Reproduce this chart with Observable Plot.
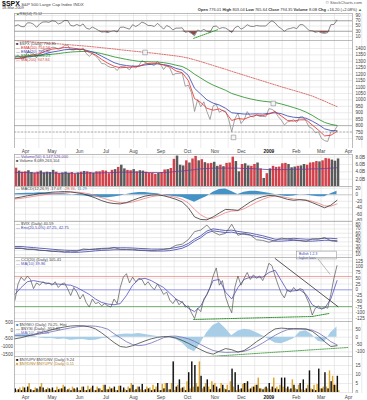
<!DOCTYPE html>
<html><head><meta charset="utf-8">
<script src="https://cdn.jsdelivr.net/npm/d3@7"></script>
<script src="https://cdn.jsdelivr.net/npm/@observablehq/plot@0.6"></script>
<style>
body{margin:0;background:#fff;}
#c{position:relative;width:367px;height:400px;overflow:hidden;font-family:"Liberation Sans",Arial,sans-serif;background:#fff;}
#c svg{position:absolute;left:0;overflow:visible;}
.t{position:absolute;white-space:nowrap;line-height:1;}
</style></head><body><div id="c"></div>
<script>
// ---------- DATA (semi-weekly grid from 2008-03-20, step 3.5 days, 105 points) ----------
const price = [1330,1350,1325,1322,1370,1372,1360,1328,1365,1388,
 1395,1396,1409,1408,1394,1403,1424,1426,1390,1388,
 1398,1385,1404,1361,1339,1360,1342,1318,1283,1280,
 1262,1252,1253,1228,1260,1261,1252,1234,1267,1249,
 1266,1305,1293,1278,1277,1267,1300,1277,1236,1268,
 1249,1193,1206,1207,1209,1106,1114,1056,910,1003,
 946,985,908,848,954,966,904,919,911,850,
 752,851,896,816,845,909,873,868,886,871,
 872,869,931,927,909,871,843,805,828,836,
 845,825,868,869,835,789,778,743,752,700,
 683,677,751,753,794];
const rsi = [50,55,48,47,62,62,57,45,58,65,
 66,64,70,68,58,62,71,71,52,50,
 56,50,58,42,38,46,40,33,27,28,
 25,30,32,27,45,46,42,38,55,48,
 55,65,60,52,52,48,60,50,38,52,
 46,35,42,42,43,26,29,22,13,35,
 30,37,30,26,48,50,40,44,42,35,
 25,43,50,38,44,55,49,48,52,50,
 50,50,62,70,62,48,40,30,38,41,
 44,40,55,55,44,33,32,26,29,24,
 22,25,55,56,72];
const cci = [-45,25,55,40,60,45,5,30,20,35,
 25,30,20,35,10,25,30,5,-25,10,
 -10,-40,-20,-55,-75,-40,-60,-55,-70,-60,
 -70,-75,-40,-60,10,55,70,30,55,35,
 50,45,20,35,15,0,25,5,-20,-10,
 -45,-60,-40,-65,-50,-75,-70,-100,-125,-80,
 -95,-40,-20,10,60,95,20,40,-30,-70,
 -100,10,60,20,50,75,45,65,50,60,
 40,70,115,105,60,20,-15,-35,0,-10,
 10,-5,5,0,-30,-60,-110,-80,-70,-85,
 -75,-80,-20,50,105];
const volume = [5.0,4.2,3.9,4.0,4.3,3.8,3.6,3.9,4.2,3.7,
 3.9,3.8,4.4,3.9,3.5,3.7,3.9,3.6,3.8,3.4,
 3.7,3.9,4.1,4.0,3.8,3.6,4.0,4.0,4.3,4.2,
 3.5,4.4,4.6,5.2,5.8,4.8,4.4,4.3,4.6,4.0,
 4.3,4.2,3.9,3.6,3.6,3.3,3.6,3.8,4.5,4.6,
 4.9,7.4,8.3,5.8,5.6,7.0,6.4,7.5,8.2,7.0,
 7.3,6.5,6.2,6.3,6.6,5.5,5.8,5.4,6.3,6.4,
 8.0,6.8,4.0,6.0,6.2,5.6,5.5,6.0,6.4,4.8,
 2.2,3.5,4.8,5.5,5.2,5.3,6.2,6.3,6.0,5.1,
 5.3,5.5,5.6,6.0,5.8,6.4,6.5,6.8,6.7,7.0,
 7.6,7.5,7.2,6.9,7.5];
const volumeDir = "rkrrkkrrkk"+"kkkrrkkkrr"+"krkrrkrrrr"+"rrkrkkrrkr"+"kkrrrrkrrk"+"rrkkkrkrrk"+"rkrrkkrkrr"+"rkkrkkrrkr"+"krkrrrrrkk"+"krkkrrrrkr"+"rrkkk";
const upDownRatio = [2,1.5,1,2.5,3,1.5,1,2,3,2.5,
 1.5,2,2.5,1,1.5,2,3,1.5,1,2,
 2.5,1,3,1,1.5,3.5,1,2,1,4,
 1.5,2,3,1,3.5,2.5,1,2,4,1.5,
 3,4.5,1.5,2,1,1.5,5,1,2,5,
 1.5,17,3,7,2.5,1,11,17,15,3,
 9,3,7,1.5,4,3,2,4,1.5,1,
 13,11,4,2,5,6,2,3,4,2,
 1.5,3,5,3,2,1.5,8,8,3,2,
 4,1.5,5,7,2,12,1.5,1,13,2,
 11,2,6,4,9];
const downUpRatio = [1,2.5,3,1,5,1,2.5,1.5,5,1,
 2.5,1.5,1,3,2,4,1,2,3,1.5,
 1,3,1,3.5,2.5,1,3,2,4,1.5,
 3,2,1,3.5,1,1.5,3,5,1,3,
 1.5,1,3,2.5,4,3,1,4.5,5,1.5,
 5,1,4,2,3,6,2,3,5,17,
 2,5,3,6,5,1.5,5,2,4,6,
 3,1,1.5,4.5,5,1.5,3,4,8,2,
 2.5,2,1.5,8,3,4,3,2,1.5,7,
 2,4,1.5,1,4,2,4,4.5,2,3,
 3,12,9,4,1];

// ---------- DATA (weekly grid from 2008-03-20, 53 points) ----------
const ema10 = [1320,1325,1340,1352,1358,1380,1395,1400,1408,1405,1398,1392,1370,1350,1315,1285,1262,1250,1253,1255,1262,1280,1285,1285,1270,1258,1225,1212,1150,1010,980,935,920,930,905,840,855,850,870,880,878,890,910,875,840,835,845,845,805,765,720,725,755];
const ema20 = [1325,1325,1333,1340,1347,1360,1372,1380,1390,1393,1393,1392,1380,1365,1340,1315,1290,1275,1267,1262,1263,1272,1277,1280,1275,1265,1245,1232,1190,1090,1045,1000,975,960,935,900,895,890,890,892,890,895,900,893,875,865,862,858,835,808,775,762,760];
const ema50 = [1340,1338,1340,1342,1345,1350,1355,1360,1367,1372,1375,1377,1375,1370,1360,1348,1335,1325,1315,1307,1300,1298,1296,1295,1290,1282,1270,1260,1235,1200,1170,1140,1115,1095,1075,1050,1035,1020,1008,998,990,985,980,968,955,940,925,905,880,850,825,810,801];
const ma200 = [1462,1458,1454,1450,1447,1443,1440,1436,1432,1428,1424,1420,1416,1411,1406,1401,1396,1390,1385,1380,1375,1370,1365,1360,1354,1348,1342,1335,1325,1312,1298,1283,1268,1253,1238,1222,1207,1192,1177,1162,1147,1132,1117,1102,1088,1074,1060,1045,1030,1010,990,968,948];
const volMA = [3.8,3.8,3.8,3.7,3.7,3.7,3.7,3.6,3.6,3.6,3.6,3.6,3.7,3.7,3.7,3.8,3.8,3.9,3.9,3.9,3.9,3.8,3.8,3.8,3.8,3.9,4.1,4.2,4.4,4.6,4.8,4.9,5.0,5.0,5.0,5.0,5.0,4.9,4.9,4.8,4.7,4.6,4.6,4.6,4.6,4.7,4.7,4.7,4.8,4.8,4.9,5.0,5.1];
const macd = [-10,-7,-3,0,4,6,8,9,10,9,6,3,-3,-10,-18,-24,-27,-28,-24,-17,-10,-4,-1,0,-3,-8,-14,-22,-40,-68,-76,-77,-68,-56,-45,-46,-48,-35,-22,-12,-6,-2,-3,-8,-14,-17,-15,-17,-24,-32,-40,-32,-17];
const macdSignal = [-13,-11,-8,-5,-2,1,3,5,7,8,8,6,3,-3,-9,-15,-20,-24,-25,-22,-17,-11,-6,-3,-2,-4,-8,-14,-25,-45,-62,-72,-72,-64,-55,-50,-49,-43,-33,-23,-14,-7,-4,-5,-9,-13,-15,-16,-20,-26,-34,-35,-28];
const macdHist = [3,4,5,5,6,5,5,4,3,1,-2,-3,-6,-7,-9,-9,-7,-4,1,5,7,7,5,3,-1,-4,-6,-8,-15,-23,-14,-5,8,16,18,10,1,8,11,11,8,5,1,-3,-5,-4,0,-1,-4,-6,-6,3,11];
const vix = [25.8,25.7,22.5,23.5,20.3,20.0,18.2,19.0,16.5,18.5,17.8,23.6,22.5,22.2,23.4,23.8,27.0,22.8,22.6,22.9,21.0,21.0,19.8,20.7,22.6,24.4,32.0,34.7,45.3,63.9,67.6,79.1,62.9,56.1,59.8,80.9,55.3,60.0,56.0,44.9,43.4,39.2,42.8,49.0,46.4,44.8,43.4,41.2,47.1,46.3,50.2,42.4,40.6];
const vixMA = [27,27,25.5,24.5,23,22,20.5,19.5,18.5,18,18,19,20,21.5,22.5,23,24,24,24,23.5,22.5,22,21,21,21,22,24.5,27.5,34,44,52,63,68,66,64,65,62,60,58,55,52,48,44,44,45,46,45,44,44,45,46,46,45];
const cciMA = [-20,10,35,40,35,30,25,25,22,20,10,-5,-20,-40,-55,-62,-65,-60,-25,20,45,50,40,25,10,-15,-40,-55,-80,-95,-70,-20,40,45,-10,-40,10,45,55,55,55,75,85,40,-5,-5,0,-20,-65,-80,-80,-40,40];
const nysi = [-520,-450,-350,-250,-150,-50,50,150,220,280,300,290,230,100,-150,-450,-750,-1000,-1050,-950,-800,-650,-520,-430,-380,-390,-470,-620,-800,-1000,-1200,-1380,-1480,-1300,-1130,-1200,-1350,-1250,-1000,-700,-450,-150,100,150,120,110,100,90,-50,-350,-700,-1000,-950];
const nysiMA = [-300,-330,-320,-280,-220,-150,-70,10,90,160,230,270,285,270,200,80,-200,-450,-700,-880,-950,-900,-780,-620,-450,-360,-350,-420,-520,-680,-880,-1080,-1250,-1330,-1370,-1360,-1340,-1300,-1180,-1000,-780,-540,-300,-100,50,100,110,90,20,-150,-400,-700,-900];
const nymo = [15,22,20,12,-5,-10,-8,-15,-12,-20,-18,-15,-22,-20,-10,-5,8,18,22,20,25,18,12,5,0,-5,-15,-40,-80,-100,-40,30,80,100,60,10,40,55,50,30,10,-15,-40,-45,-30,-10,35,45,15,-30,-35,30,70];

// ---------- annotations (dates & values) ----------
const rsiTrendDates = ["2008-10-08","2008-11-05"], rsiTrendVals = [3, 37];
const cciTrendDates = ["2009-01-08","2009-03-20"], cciTrendVals = [136, -73];
const cciSupportDates = ["2008-10-08","2009-02-19","2009-03-10"], cciSupportVals = [-129, -116, -103];
const nysiSupportDates = ["2008-10-22","2009-04-01"], nysiSupportVals = [-1640, -1060];
const priceNoteDates = ["2008-08-14","2008-11-22","2009-01-06"], priceNoteVals = [1369, 708, 972];

// ---------- tick labels ----------
const monthLabels = ["Apr","May","Jun","Jul","Aug","Sep","Oct","Nov","Dec","2009","Feb","Mar","Apr"];
const rsiTicks = [90,70,50,30,10];
const priceTicks = [1400,1350,1300,1250,1200,1150,1100,1050,1000,950,900,850,800,750,700];
const volTicks = [8,6,4,2];
const macdTicks = [20,0,-20,-40,-60,-80];
const vixTicks = [80,70,60,50,40,30,20,10];
const cciTicks = [125,100,75,50,25,0,-25,-50,-75,-100,-125];
const nymoTicks = [50,0,-50,-100];
const nysiTicks = [500,0,-500,-1000,-1500];
const ratioTicks = [15,10,5,0];

// ---------- build ----------
const DAY = 864e5, T0 = Date.UTC(2008,2,20);
const semiDates = d3.range(price.length).map(i => new Date(T0 + i*3.5*DAY));
const weekDates = d3.range(ema10.length).map(i => new Date(T0 + i*7*DAY));
const semi = a => a.map((v,i) => ({date: semiDates[i], end: new Date(+semiDates[i] + 3.5*DAY), mid: new Date(+semiDates[i] + 1.75*DAY), v, i}));
const week = a => a.map((v,i) => ({date: weekDates[i], v}));
const pts = (ds, vs) => ds.map((d,i) => ({date: new Date(d), v: vs[i]}));
const xDomain = [new Date("2008-03-19T12:00Z"), new Date("2009-04-05T12:00Z")];
const monthDates = d3.utcMonth.range(new Date("2008-04-01"), new Date("2009-04-02"));
const grid = monthDates.flatMap(d => [d, d3.utcDay.offset(d, 15)]);
const FONT = "Liberation Sans, Arial, sans-serif";
const C = document.getElementById("c");

function panel(top, bottom, yDomain, ticks, marks, opt = {}) {
  const fmt = opt.fmt || (d => String(d));
  const svg = Plot.plot({
    width: 367, height: bottom - top, marginLeft: 14, marginRight: 15, marginTop: 0, marginBottom: 0,
    x: {type: "utc", domain: xDomain, axis: null},
    y: {domain: yDomain, axis: null},
    style: {background: opt.transparent ? "transparent" : "white", fontFamily: FONT, overflow: "visible"},
    marks: [
      opt.noGrid ? null : Plot.ruleX(grid, {stroke: "#dedede", strokeWidth: 0.6}),
      opt.noGrid ? null : Plot.ruleY(ticks, {stroke: "#dedede", strokeWidth: 0.6}),
      ...marks,
      opt.noGrid ? null : Plot.frame({stroke: "#a0a0a0", strokeWidth: 0.7}),
      Plot.text(ticks, {frameAnchor: opt.left ? "left" : "right", y: d => d, text: fmt,
        textAnchor: opt.left ? "end" : "start", dx: opt.left ? -1.5 : 3, fontSize: 4.6, fill: "#444"})
    ]
  });
  svg.style.top = top + "px";
  C.appendChild(svg);
}
function label(x, y, html, size, color, right) {
  const d = document.createElement("div");
  d.className = "t";
  d.style.top = y + "px";
  if (right) d.style.right = (367 - x) + "px"; else d.style.left = x + "px";
  d.style.fontSize = size + "px";
  d.style.color = color || "#333";
  d.innerHTML = html;
  C.appendChild(d);
}
function axisStrip(top, h) {
  const rows = monthDates.map((d,i) => ({d, l: monthLabels[i]}));
  const svg = Plot.plot({
    width: 367, height: h, marginLeft: 14, marginRight: 15, marginTop: 0, marginBottom: 0,
    x: {type: "utc", domain: xDomain, axis: null}, y: {domain: [0, 1], axis: null},
    style: {background: "white", fontFamily: FONT, overflow: "visible"},
    marks: [
      Plot.text(rows.filter(o => o.l !== "2009"), {x: "d", y: 0.5, text: "l", fontSize: 4.8, fill: "#444"}),
      Plot.text(rows.filter(o => o.l === "2009"), {x: "d", y: 0.5, text: "l", fontSize: 4.8, fill: "#111", fontWeight: "bold"})
    ]
  });
  svg.style.top = top + "px";
  C.appendChild(svg);
}

// RSI panel
panel(13, 40, [-5.2, 97.6], rsiTicks, [
  Plot.ruleY([70, 30], {stroke: "#8a8a8a", strokeWidth: 0.7}),
  Plot.areaY(semi(rsi), {x: "date", y1: 70, y2: d => Math.max(d.v, 70), fill: "#3c9a3c"}),
  Plot.areaY(semi(rsi), {x: "date", y1: 30, y2: d => Math.min(d.v, 30), fill: "#8c4a4a"}),
  Plot.lineY(semi(rsi), {x: "date", y: "v", stroke: "#555", strokeWidth: 0.7}),
  Plot.line(pts(rsiTrendDates, rsiTrendVals), {x: "date", y: "v", stroke: "#1a9a1a", strokeWidth: 0.9, strokeDasharray: "1.2,1", clip: true})
]);

// Price panel
panel(40, 148, [622, 1462], priceTicks, [
  Plot.ruleY([800], {stroke: "#999", strokeWidth: 0.7}),
  Plot.ruleY([750], {stroke: "#999", strokeWidth: 0.7, strokeDasharray: "2,1.5"}),
  Plot.lineY(week(ma200), {x: "date", y: "v", stroke: "#d0504a", strokeWidth: 0.8, strokeDasharray: "1.3,1.2", clip: true}),
  Plot.lineY(semi(price), {x: "date", y: "v", stroke: "#8c8c8c", strokeWidth: 0.8, clip: true}),
  Plot.lineY(week(ema50), {x: "date", y: "v", stroke: "#1e8c1e", strokeWidth: 0.8, clip: true}),
  Plot.lineY(week(ema20), {x: "date", y: "v", stroke: "#3040b0", strokeWidth: 0.8, clip: true}),
  Plot.lineY(week(ema10), {x: "date", y: "v", stroke: "#e8282a", strokeWidth: 0.8, clip: true}),
  Plot.dot(pts(priceNoteDates, priceNoteVals), {x: "date", y: "v", symbol: "square", r: 2.6, fill: "#f4f4fb", stroke: "#777", strokeWidth: 0.5})
]);
axisStrip(148, 6);

// Volume panel
panel(154, 186, [0, 8.72], volTicks, [
  Plot.rectY(semi(volume), {x1: "date", x2: "end", y: "v", insetLeft: 0.3, insetRight: 0.3,
    fill: d => volumeDir[d.i] === "r" ? "#d2414a" : "#5a5a5a", clip: true}),
  Plot.lineY(week(volMA), {x: "date", y: "v", stroke: "#6a3fa0", strokeWidth: 0.8})
], {fmt: d => d.toFixed(1) + "B"});

// MACD panel
panel(186, 221, [-82.2, 25.5], macdTicks, [
  Plot.ruleY([0], {stroke: "#bbb", strokeWidth: 0.6}),
  Plot.areaY(week(macdHist), {x: "date", y: "v", fill: "#3b8cc4", fillOpacity: 0.95}),
  Plot.lineY(week(macdSignal), {x: "date", y: "v", stroke: "#f08080", strokeWidth: 0.8}),
  Plot.lineY(week(macd), {x: "date", y: "v", stroke: "#333", strokeWidth: 0.8})
]);

// VIX panel
panel(221, 257, [3.7, 87.4], vixTicks, [
  Plot.lineY(week(vixMA), {x: "date", y: "v", stroke: "#3a40a8", strokeWidth: 0.8, dy: -1}),
  Plot.lineY(week(vixMA), {x: "date", y: "v", stroke: "#3a40a8", strokeWidth: 0.8, dy: 1}),
  Plot.lineY(week(vix), {x: "date", y: "v", stroke: "#555", strokeWidth: 0.7})
]);

// CCI panel
const noteLines = ["Bullish 1-2-3", "higher lows"];
panel(257, 321, [-137.8, 140.4], cciTicks, [
  Plot.ruleY([58], {stroke: "#f08a8a", strokeWidth: 0.8}),
  Plot.ruleY([0], {stroke: "#8a8af0", strokeWidth: 0.8}),
  Plot.ruleY([-73], {stroke: "#5aa05a", strokeWidth: 0.8}),
  Plot.lineY(week(cciMA), {x: "date", y: "v", stroke: "#5050c0", strokeWidth: 0.8}),
  Plot.lineY(semi(cci), {x: "date", y: "v", stroke: "#555", strokeWidth: 0.7}),
  Plot.line(pts(cciTrendDates, cciTrendVals), {x: "date", y: "v", stroke: "#111", strokeWidth: 0.7}),
  Plot.line(pts(cciSupportDates, cciSupportVals), {x: "date", y: "v", stroke: "#1a8a1a", strokeWidth: 0.9, strokeDasharray: "1.2,1"}),
  Plot.line(pts(["2009-02-26","2009-03-11"], [132, 68]), {x: "date", y: "v", stroke: "#777", strokeWidth: 0.5}),
  Plot.rect([0], {x1: new Date("2009-02-02"), x2: new Date("2009-03-19"), y1: 132, y2: 166, fill: "white", stroke: "#888", strokeWidth: 0.5}),
  Plot.text(noteLines, {x: new Date("2009-02-04"), y: (d, i) => i === 0 ? 158 : 140, text: d => d, textAnchor: "start", fontSize: 3.3, fill: "#3344bb"})
]);

// NYMO histogram (right scale)
panel(321, 356, [-132, 107.5], nymoTicks, [
  Plot.areaY(week(nymo), {x: "date", y: "v", fill: "#a8cde6"})
]);
// NYSI lines (left scale), overlay
panel(321, 356, [-1625, 562], nysiTicks, [
  Plot.lineY(week(nysiMA), {x: "date", y: "v", stroke: "#7070b8", strokeWidth: 0.8}),
  Plot.lineY(week(nysi), {x: "date", y: "v", stroke: "#444", strokeWidth: 0.8}),
  Plot.line(pts(nysiSupportDates, nysiSupportVals), {x: "date", y: "v", stroke: "#4aa04a", strokeWidth: 0.9, strokeDasharray: "1.2,1", clip: true})
], {left: true, noGrid: true, transparent: true});

// Up/down volume ratio panel
panel(356, 393, [-0.56, 20], ratioTicks, [
  Plot.rectY(semi(downUpRatio), {x1: "mid", x2: "end", y: "v", fill: "#e0a42a", insetRight: 0.1}),
  Plot.rectY(semi(upDownRatio), {x1: "date", x2: "mid", y: "v", fill: "#111", insetLeft: 0.1})
]);
axisStrip(393, 7);

// ---------- text ----------
label(2, 0.3, '<b style="font-size:7px;color:#111">$SPX</b> S&amp;P 500 Large Cap Index INDX', 4.4, "#444");
label(2, 7.2, "18-Mar-2009", 3.8, "#444");
label(362, 1, "&copy; StockCharts.com", 4.2, "#555", true);
label(362, 7.5, "<b>Open</b> 776.01 <b>High</b> 803.04 <b>Low</b> 765.64 <b>Close</b> 794.35 <b>Volume</b> 8.0B <b>Chg</b> +16.20 (+2.08%) <span style='color:#1a8a1a'>&#9650;</span>", 4.0, "#333", true);
label(16, 13.4, "<span style='color:#1a8a1a'>&#9650;</span>RSI(14) 71.12", 3.6, "#444");
label(16, 41.5, "<span style='color:#444'>&#9632;</span> $SPX (Daily) 794.35", 4.0, "#444");
label(16, 45.5, "<span style='color:#e8282a'>&mdash;</span> EMA(10) 754.56", 4.0, "#e8282a");
label(16, 49.5, "<span style='color:#3040b0'>&mdash;</span> EMA(20) 759.90", 4.0, "#3040b0");
label(16, 53.5, "<span style='color:#1e8c1e'>&mdash;</span> EMA(50) 801.23", 4.0, "#1e8c1e");
label(16, 57.5, "<span style='color:#d0504a'>&mdash;</span> MA(200) 947.84", 4.0, "#d0504a");
label(16, 154.5, "<span style='color:#6a3fa0'>&mdash;</span> Volume(50) 6,147,526,000", 4.0, "#6a3fa0");
label(16, 158.5, "<span style='color:#5a5a5a'>&#9632;</span> Volume 8,089,263,104", 4.0, "#444");
label(16, 187, "<span style='color:#333'>&mdash;</span> MACD(12,26,9) -17.07, <span style='color:#e06060'>-28.36</span>, <span style='color:#3b8cc4'>11.29</span>", 4.0, "#444");
label(16, 222, "<span style='color:#555'>&mdash;</span> $VIX (Daily) 40.59", 4.0, "#444");
label(16, 226, "<span style='color:#3a40a8'>&mdash;</span> Env(20,5.0%) 47.25, 42.75", 4.0, "#3a40a8");
label(16, 258, "<span style='color:#555'>&mdash;</span> CCI(20) (Daily) 105.41", 4.0, "#444");
label(16, 262, "<span style='color:#5050c0'>&mdash;</span> MA(10) 39.86", 4.0, "#5050c0");
label(16, 322.5, "<span style='color:#3b8cc4'>&#9632;</span> $NYMO (Daily) 70.25, Hist", 4.0, "#444");
label(16, 326.5, "<span style='color:#444'>&mdash;</span> $NYSI (Daily) -953.40", 4.0, "#444");
label(16, 330.5, "<span style='color:#7070b8'>&mdash;</span> MA(10) -897.45", 4.0, "#7070b8");
label(16, 357.5, "<span style='color:#111'>&#9632;</span> $NYUPV:$NYDNV (Daily) 9.24", 4.0, "#444");
label(16, 361.5, "<span style='color:#e0a42a'>&#9632;</span> $NYDNV:$NYUPV (Daily) 0.11", 4.0, "#b07a10");
</script></body></html>
